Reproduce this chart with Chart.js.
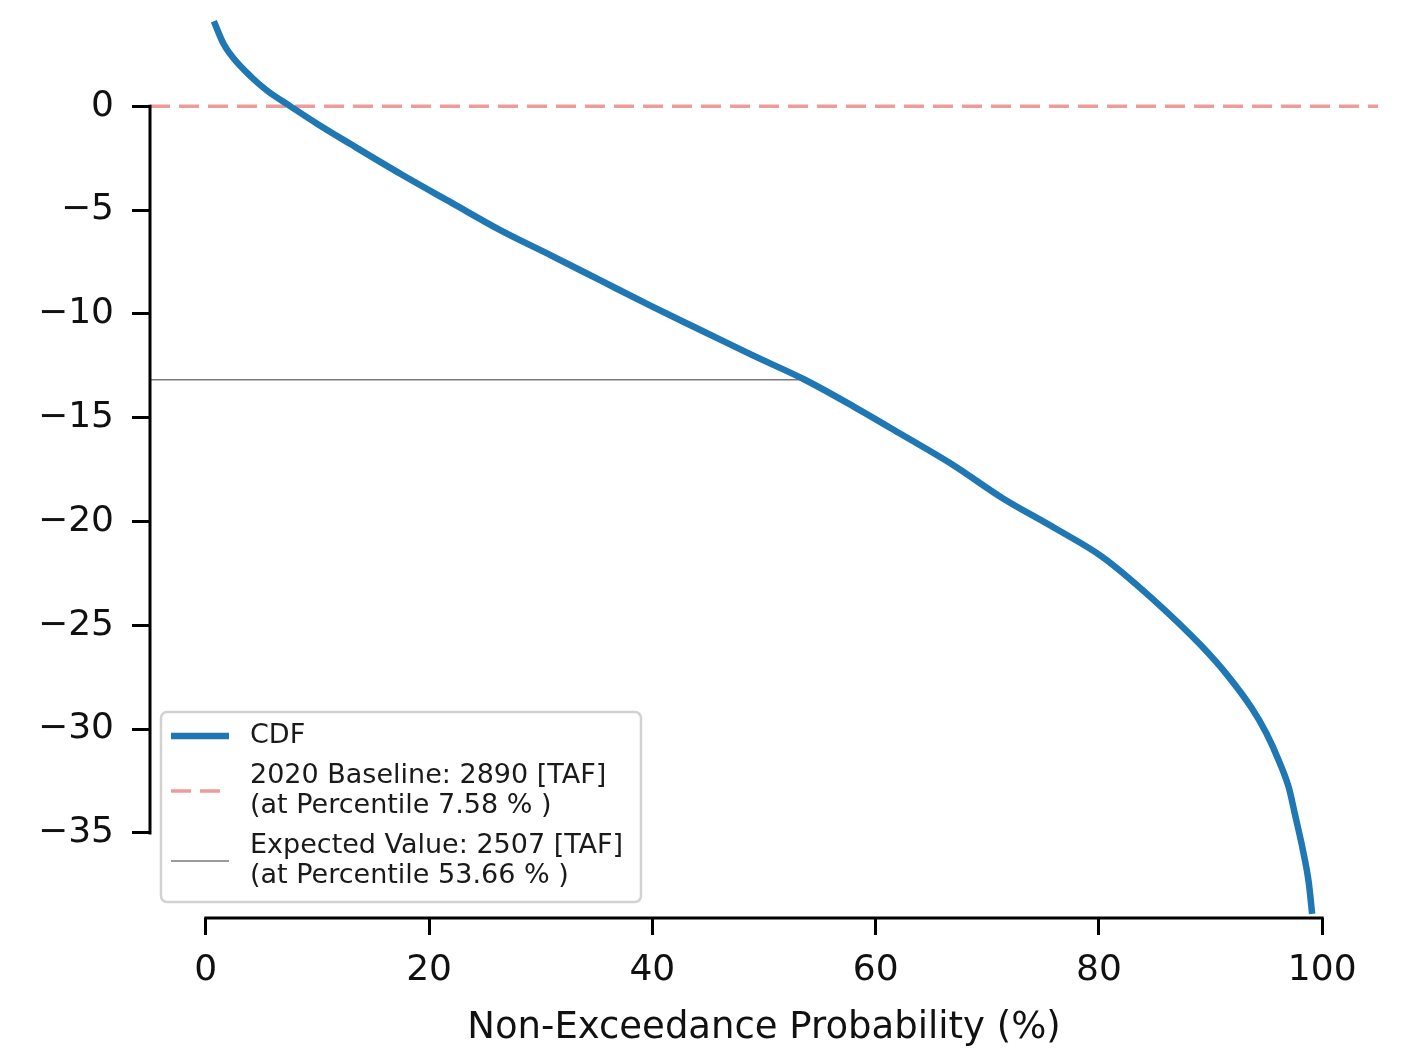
<!DOCTYPE html>
<html>
<head>
<meta charset="utf-8">
<script src="https://cdn.jsdelivr.net/npm/chart.js@4.4.0/dist/chart.umd.min.js"></script>
<style>
  html, body { margin: 0; padding: 0; background: #fff; }
  #wrap { width: 1402px; height: 1053px; }
</style>
</head>
<body>
<div id="wrap"><canvas id="cdfChart" width="1402" height="1053"></canvas></div>
<script>
// non-exceedance probability (%) and the change value
const probs = [0.72, 1.6, 2.5, 4.0, 5.5, 7.58, 10, 13, 17.5, 22, 26.5, 31, 35.4, 40, 44.4, 49, 53.66,
  58, 62.3, 67, 71.3, 76, 80.3, 84.75, 89.2, 91.5, 93.7, 95, 96.1, 97, 97.6, 98.3, 98.8, 99.1];
const values = [4.1, 3.0, 2.3, 1.45, 0.75, 0, -0.85, -1.83, -3.27, -4.64, -6.0, -7.2, -8.4, -9.65, -10.8, -12.0, -13.17,
  -14.45, -15.8, -17.3, -18.85, -20.3, -21.7, -23.7, -26.0, -27.4, -29.0, -30.2, -31.5, -32.8, -34.2, -35.9, -37.4, -38.9];

const baselineValue = 0;
const expectedValue = -13.17;
const expectedPct = 53.66;

const xTicks = [0, 20, 40, 60, 80, 100];
const yTicks = [0, -5, -10, -15, -20, -25, -30, -35];
const xRange = [-5, 105];
const yRange = [-39.1, 4.4];

const legendLabels = [
  ['CDF'],
  ['2020 Baseline: 2890 [TAF]', '(at Percentile 7.58 % )'],
  ['Expected Value: 2507 [TAF]', '(at Percentile 53.66 % )']
];
const xTitle = 'Non-Exceedance Probability (%)';

const FONT = 'DejaVu Sans';
const fmtTick = (v) => (v < 0 ? '\u2212' + Math.abs(v) : String(v));

// spines trimmed to the tick range, like seaborn despine(trim=True)
const spinePlugin = {
  id: 'spines',
  afterDraw(chart) {
    const { ctx, chartArea, scales } = chart;
    ctx.save();
    ctx.strokeStyle = '#000';
    ctx.lineWidth = 3;
    ctx.lineCap = 'square';
    ctx.beginPath();
    ctx.moveTo(chartArea.left, scales.y.getPixelForValue(yTicks[0]));
    ctx.lineTo(chartArea.left, scales.y.getPixelForValue(yTicks[yTicks.length - 1]));
    ctx.moveTo(scales.x.getPixelForValue(xTicks[0]), chartArea.bottom);
    ctx.lineTo(scales.x.getPixelForValue(xTicks[xTicks.length - 1]), chartArea.bottom);
    ctx.stroke();
    ctx.restore();
  }
};

const legendPlugin = {
  id: 'boxLegend',
  afterDraw(chart) {
    const ctx = chart.ctx;
    const box = { x: 161, y: 712, w: 480, h: 190 };
    ctx.save();
    ctx.fillStyle = 'rgba(255,255,255,0.85)';
    ctx.strokeStyle = '#d2d2d2';
    ctx.lineWidth = 2.5;
    ctx.beginPath();
    ctx.roundRect(box.x, box.y, box.w, box.h, 6);
    ctx.fill();
    ctx.stroke();

    const rows = [736, 791, 861];
    ctx.font = '27px ' + FONT;
    ctx.fillStyle = '#1a1a1a';
    ctx.textBaseline = 'middle';
    chart.data.datasets.forEach((ds, i) => {
      ctx.strokeStyle = ds.borderColor;
      ctx.lineWidth = ds.borderWidth;
      ctx.setLineDash(ds.borderDash || []);
      ctx.lineCap = 'butt';
      ctx.beginPath();
      ctx.moveTo(171, rows[i]);
      ctx.lineTo(229, rows[i]);
      ctx.stroke();
      const lines = legendLabels[i];
      const lh = 30;
      const y0 = rows[i] - (lines.length - 1) * lh / 2;
      lines.forEach((t, k) => ctx.fillText(t, 250, y0 + k * lh));
    });
    ctx.restore();
  }
};

new Chart(document.getElementById('cdfChart'), {
  type: 'line',
  data: {
    datasets: [
      {
        label: legendLabels[0][0],
        data: probs.map((p, i) => ({ x: p, y: values[i] })),
        borderColor: '#1f77b4',
        borderWidth: 6.5,
        pointRadius: 0,
        cubicInterpolationMode: 'monotone',
      },
      {
        label: legendLabels[1][0],
        data: [{ x: xRange[0], y: baselineValue }, { x: xRange[1], y: baselineValue }],
        borderColor: 'rgba(226,88,88,0.6)',
        borderWidth: 3.5,
        borderDash: [20, 9],
        pointRadius: 0,
      },
      {
        label: legendLabels[2][0],
        data: [{ x: xRange[0], y: expectedValue }, { x: expectedPct, y: expectedValue }],
        borderColor: '#7a7a7a',
        borderWidth: 1.5,
        pointRadius: 0,
      },
    ],
  },
  options: {
    responsive: false,
    animation: false,
    devicePixelRatio: 1,
    layout: { padding: { top: 15, right: 24, bottom: 0, left: 0 } },
    plugins: {
      legend: { display: false },
      tooltip: { enabled: false },
    },
    scales: {
      x: {
        type: 'linear',
        min: xRange[0],
        max: xRange[1],
        afterBuildTicks: (axis) => { axis.ticks = xTicks.map((v) => ({ value: v })); },
        afterFit: (scale) => { scale.height = 135; scale.paddingLeft = 0; scale.paddingRight = 0; },
        ticks: {
          font: { family: FONT, size: 36 },
          color: '#111',
          padding: 14,
          maxRotation: 0,
          callback: fmtTick,
        },
        grid: { drawOnChartArea: false, drawTicks: true, tickLength: 17, color: '#000', lineWidth: 3 },
        border: { display: false },
        title: {
          display: true,
          text: xTitle,
          font: { family: FONT, size: 37 },
          color: '#111',
          padding: { top: 0, bottom: 2 },
        },
      },
      y: {
        type: 'linear',
        min: yRange[0],
        max: yRange[1],
        afterBuildTicks: (axis) => { axis.ticks = yTicks.map((v) => ({ value: v })); },
        afterFit: (scale) => { scale.width = 150; scale.paddingTop = 0; scale.paddingBottom = 0; },
        ticks: {
          font: { family: FONT, size: 36 },
          color: '#111',
          padding: 18,
          callback: fmtTick,
        },
        grid: { drawOnChartArea: false, drawTicks: true, tickLength: 18, color: '#000', lineWidth: 3 },
        border: { display: false },
      },
    },
  },
  plugins: [spinePlugin, legendPlugin],
});
</script>
</body>
</html>
